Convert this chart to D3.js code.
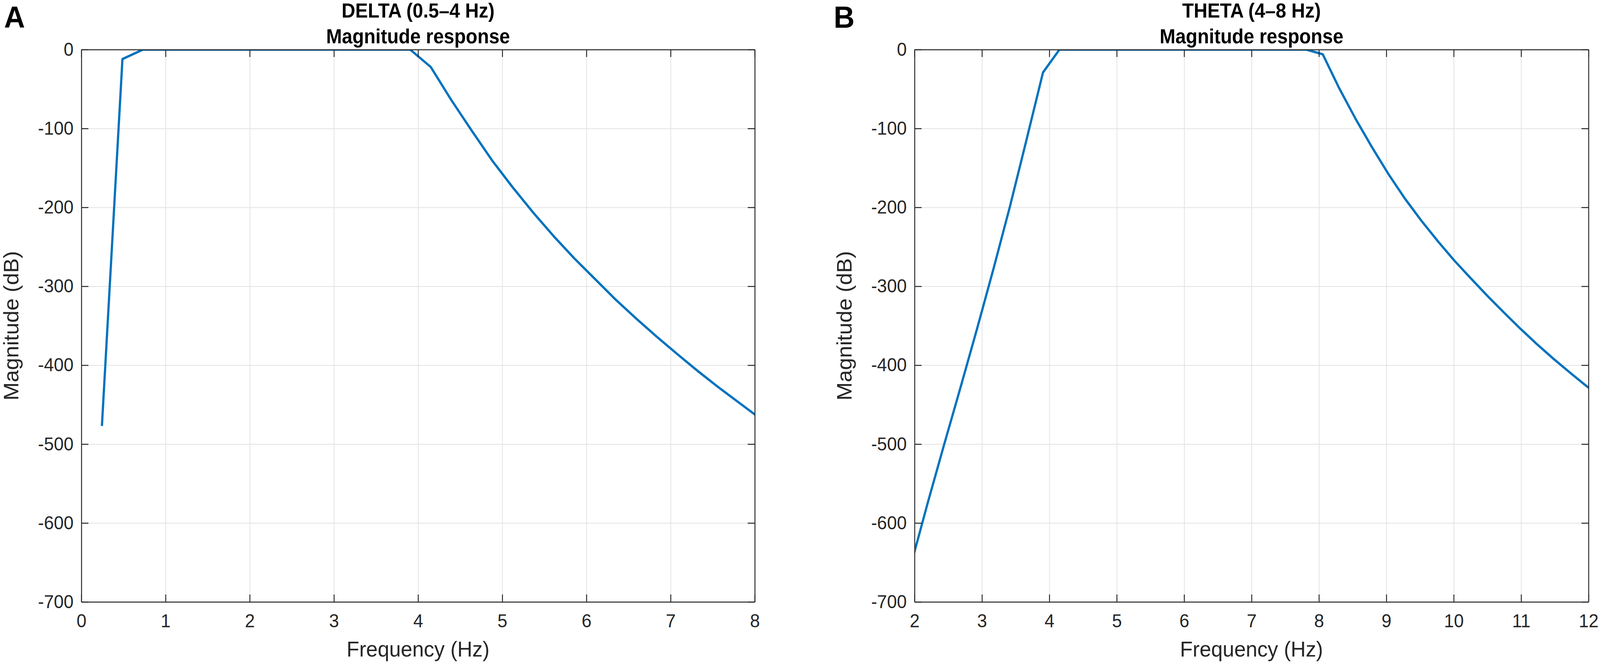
<!DOCTYPE html>
<html>
<head>
<meta charset="utf-8">
<script src="https://cdn.jsdelivr.net/npm/d3@7"></script>
<style>
  html, body { margin: 0; padding: 0; background: #fff; overflow: hidden; }
  svg { display: block; font-family: "Liberation Sans", Arial, Helvetica, sans-serif; }
  .tick text { fill: #262626; }
</style>
</head>
<body>
<div id="chart-area"></div>
<script>
// frequency bins (Hz) and magnitude (dB)
var deltaFreq = [0.244, 0.488, 0.732, 0.977, 1.221, 1.465, 1.709, 1.953, 2.197, 2.441,
  2.686, 2.930, 3.174, 3.418, 3.662, 3.906, 4.150, 4.395, 4.639, 4.883, 5.127, 5.371,
  5.615, 5.859, 6.104, 6.348, 6.592, 6.836, 7.080, 7.324, 7.568, 7.813, 8.057];
var deltaMag = [-477, -12, 0, 0, 0, 0, 0, 0, 0, 0,
  0, 0, 0, 0, 0, 0, -22, -64, -103, -141, -175, -207,
  -237, -265, -291, -317, -341, -364, -386, -407.5, -428, -447.5, -467];

var thetaFreq = [1.953, 2.197, 2.441, 2.686, 2.930, 3.174, 3.418, 3.662, 3.906, 4.150,
  4.395, 4.639, 4.883, 5.127, 5.371, 5.615, 5.859, 6.104, 6.348, 6.592, 6.836, 7.080,
  7.324, 7.568, 7.813, 8.057, 8.301, 8.545, 8.789, 9.033, 9.277, 9.521, 9.766, 10.010,
  10.254, 10.498, 10.742, 10.986, 11.230, 11.475, 11.719, 11.963, 12.207];
var thetaMag = [-651, -574, -500, -427, -353, -277, -198, -114, -29, 0,
  0, 0, 0, 0, 0, 0, 0, 0, 0, 0, 0, 0,
  0, 0, 0, -6, -49, -88, -124, -158, -189, -217, -243, -267.5,
  -290, -312, -333, -353.5, -373, -391.5, -409, -426, -442];

var deltaTicks = [0, 1, 2, 3, 4, 5, 6, 7, 8];
var thetaTicks = [2, 3, 4, 5, 6, 7, 8, 9, 10, 11, 12];
var magTicks = [0, -100, -200, -300, -400, -500, -600, -700];

var W = 4316, H = 1696;
var plotTop = 127, plotBottom = 1542;
var plotHeight = plotBottom - plotTop;

// drawn in a 4316x1696 frame, stretched to whatever the window really is
var svg = d3.select("#chart-area")
  .append("svg")
    .attr("viewBox", "0 0 " + W + " " + H)
    .attr("preserveAspectRatio", "none")
    .style("width", "100vw")
    .style("height", "100vh");

svg.append("rect").attr("width", W).attr("height", H).attr("fill", "#fff");

function panel(id, left, right, xDomain, xTicks, freq, mag, letter, letterX, title) {
  var width = right - left;
  var height = plotHeight;
  var g = svg.append("g").attr("transform", "translate(" + left + "," + plotTop + ")");

  var x = d3.scaleLinear().domain(xDomain).range([0, width]);
  var y = d3.scaleLinear().domain([-700, 0]).range([height, 0]);

  // grid
  g.append("g")
    .attr("class", "grid")
    .attr("transform", "translate(0," + height + ")")
    .call(d3.axisBottom(x).tickValues(xTicks).tickSize(-height).tickFormat(""))
    .call(function(s){ s.select(".domain").remove(); });
  g.append("g")
    .attr("class", "grid")
    .call(d3.axisLeft(y).tickValues(magTicks).tickSize(-width).tickFormat(""))
    .call(function(s){ s.select(".domain").remove(); });
  g.selectAll(".grid line").attr("stroke", "#e2e2e2").attr("stroke-width", 2);

  // curve, clipped to the axes box
  svg.append("clipPath").attr("id", "clip" + id)
    .append("rect").attr("width", width).attr("height", height);

  var pts = freq.map(function(f, i){ return [f, mag[i]]; });
  var line = d3.line()
    .x(function(d){ return x(d[0]); })
    .y(function(d){ return y(d[1]); });

  g.append("path")
    .datum(pts)
    .attr("clip-path", "url(#clip" + id + ")")
    .attr("fill", "none")
    .attr("stroke", "#0072bd")
    .attr("stroke-width", 6)
    .attr("stroke-linejoin", "round")
    .attr("d", line);

  // axes, ticks pointing inward on all four sides
  var tk = 19;
  var bottomAxis = d3.axisBottom(x).tickValues(xTicks).tickSizeInner(-tk).tickSizeOuter(0)
    .tickPadding(31).tickFormat(function(d){ return String(d); });
  g.append("g")
    .attr("class", "axis")
    .attr("transform", "translate(0," + height + ")")
    .call(bottomAxis);
  g.append("g")
    .attr("class", "axis")
    .call(d3.axisTop(x).tickValues(xTicks).tickSizeInner(-tk).tickSizeOuter(0).tickFormat(""));

  var leftAxis = d3.axisLeft(y).tickValues(magTicks).tickSizeInner(-tk).tickSizeOuter(0)
    .tickPadding(21).tickFormat(function(d){ return String(d); });
  g.append("g")
    .attr("class", "axis")
    .call(leftAxis);
  g.append("g")
    .attr("class", "axis")
    .attr("transform", "translate(" + width + ",0)")
    .call(d3.axisRight(y).tickValues(magTicks).tickSizeInner(-tk).tickSizeOuter(0).tickFormat(""));

  g.selectAll(".axis .domain").attr("stroke", "#262626").attr("stroke-width", 2.5);
  g.selectAll(".axis line").attr("stroke", "#262626").attr("stroke-width", 2.5);
  g.selectAll(".axis text").attr("font-size", "48px").attr("font-family", null);

  // axis labels
  g.append("text")
    .attr("x", width / 2)
    .attr("y", height + 140)
    .attr("text-anchor", "middle")
    .attr("font-size", "56px")
    .attr("fill", "#262626")
    .text("Frequency (Hz)");

  g.append("text")
    .attr("transform", "rotate(-90)")
    .attr("x", -height / 2)
    .attr("y", -170)
    .attr("text-anchor", "middle")
    .attr("font-size", "56px")
    .attr("fill", "#262626")
    .text("Magnitude (dB)");

  // title
  var tt = svg.append("text")
    .attr("x", left + width / 2)
    .attr("text-anchor", "middle")
    .attr("font-size", "51px")
    .attr("font-weight", "bold")
    .attr("fill", "#000");
  tt.append("tspan").attr("x", left + width / 2).attr("y", 45).text(title);
  tt.append("tspan").attr("x", left + width / 2).attr("y", 111).text("Magnitude response");

  // panel letter
  svg.append("text")
    .attr("x", letterX)
    .attr("y", 71)
    .attr("font-size", "78px")
    .attr("font-weight", "bold")
    .attr("fill", "#000")
    .text(letter);
}

panel("A", 219.5, 2036, [0, 8], deltaTicks, deltaFreq, deltaMag, "A", 11, "DELTA (0.5\u20134 Hz)");
panel("B", 2467, 4285, [2, 12], thetaTicks, thetaFreq, thetaMag, "B", 2249, "THETA (4\u20138 Hz)");
</script>
</body>
</html>
